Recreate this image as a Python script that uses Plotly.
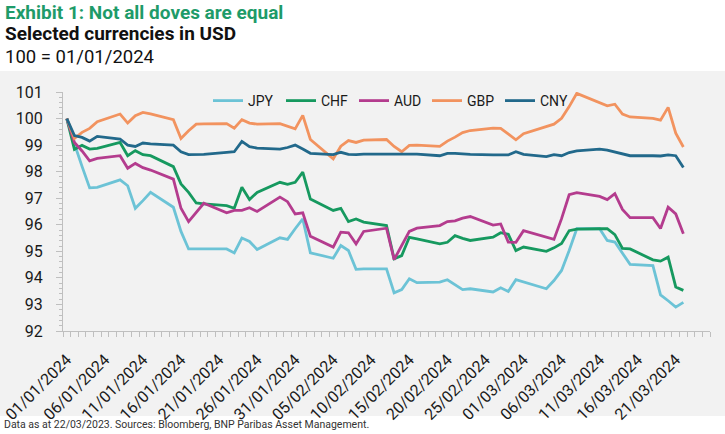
import pandas as pd
import plotly.graph_objects as go

# business days, 01/01/2024 - 22/03/2024
dates = [
    "2024-01-01", "2024-01-02", "2024-01-03", "2024-01-04", "2024-01-05",
    "2024-01-08", "2024-01-09", "2024-01-10", "2024-01-11", "2024-01-12",
    "2024-01-15", "2024-01-16", "2024-01-17", "2024-01-18", "2024-01-19",
    "2024-01-22", "2024-01-23", "2024-01-24", "2024-01-25", "2024-01-26",
    "2024-01-29", "2024-01-30", "2024-01-31",
    "2024-02-01", "2024-02-02", "2024-02-05", "2024-02-06", "2024-02-07",
    "2024-02-08", "2024-02-09", "2024-02-12", "2024-02-13", "2024-02-14",
    "2024-02-15", "2024-02-16", "2024-02-19", "2024-02-20", "2024-02-21",
    "2024-02-22", "2024-02-23", "2024-02-26", "2024-02-27", "2024-02-28",
    "2024-02-29",
    "2024-03-01", "2024-03-04", "2024-03-05", "2024-03-06", "2024-03-07",
    "2024-03-08", "2024-03-11", "2024-03-12", "2024-03-13", "2024-03-14",
    "2024-03-15", "2024-03-18", "2024-03-19", "2024-03-20", "2024-03-21",
    "2024-03-22",
]

jpy = [100, 99.05, 98.2, 97.39, 97.41, 97.69, 97.47, 96.62, 96.91, 97.22,
       96.66, 95.75, 95.09, 95.09, 95.11, 95.09, 94.94, 95.50, 95.37, 95.07,
       95.51, 95.45, 95.85,
       96.22, 94.94, 94.74, 95.22, 95.03, 94.32, 94.34, 94.34, 93.44, 93.56,
       93.97, 93.82, 93.84, 93.93, 93.74, 93.56, 93.59, 93.47, 93.63, 93.49,
       93.93,
       93.84, 93.59, 93.90, 94.28, 95.03, 95.85, 95.85, 95.41, 95.35, 94.92,
       94.51, 94.46, 93.36, 93.14, 92.90, 93.08]

chf = [100, 98.84, 98.99, 98.85, 98.88, 99.10, 98.60, 98.79, 98.64, 98.60,
       98.19, 97.54, 97.22, 96.82, 96.79, 96.72, 96.62, 97.41, 96.95, 97.22,
       97.60, 97.52, 97.60,
       97.98, 96.97, 96.54, 96.62, 96.12, 96.22, 96.10, 95.97, 94.72, 94.84,
       95.53, 95.47, 95.28, 95.34, 95.59, 95.49, 95.41, 95.53, 95.70, 95.64,
       95.03,
       95.16, 95.00, 95.13, 95.30, 95.78, 95.84, 95.85, 95.85, 95.63, 95.11,
       95.09, 94.68, 94.63, 94.78, 93.66, 93.53]

aud = [100, 99.1, 98.78, 98.41, 98.50, 98.60, 98.13, 98.31, 98.15, 98.06,
       97.72, 96.62, 96.12, 96.47, 96.81, 96.45, 96.54, 96.54, 96.64, 96.50,
       97.04, 96.87, 96.41,
       96.45, 95.57, 95.16, 95.72, 95.70, 95.28, 95.75, 95.87, 94.69, 95.22,
       95.75, 95.87, 95.97, 96.12, 96.15, 96.25, 96.31, 95.99, 96.03, 95.35,
       95.34,
       95.78, 95.55, 95.45, 96.23, 97.13, 97.21, 97.07, 96.95, 97.17, 96.58,
       96.27, 96.27, 95.86, 96.66, 96.41, 95.66]

gbp = [100, 99.25, 99.48, 99.63, 99.88, 100.17, 99.83, 100.11, 100.23, 100.18,
       99.96, 99.25, 99.54, 99.79, 99.80, 99.81, 99.64, 99.96, 99.83, 99.79,
       99.81, 99.72, 99.61,
       100.12, 99.21, 98.48, 98.96, 99.17, 99.10, 99.19, 99.21, 98.95, 98.75,
       98.99, 99.00, 98.95, 99.15, 99.30, 99.47, 99.55, 99.64, 99.63, 99.42,
       99.20,
       99.43, 99.70, 99.79, 100.01, 100.45, 100.95, 100.60, 100.48, 100.54,
       100.17, 100.06, 100.01, 99.94, 100.42, 99.45, 98.93]

cny = [100, 99.36, 99.29, 99.15, 99.33, 99.23, 99.00, 98.95, 99.08, 99.05,
       99.00, 98.75, 98.64, 98.64, 98.65, 98.73, 98.75, 99.14, 98.94, 98.89,
       98.85, 98.91, 99.00,
       98.85, 98.69, 98.64, 98.73, 98.65, 98.64, 98.66, 98.66, 98.66, 98.66,
       98.66, 98.66, 98.60, 98.69, 98.69, 98.66, 98.65, 98.63, 98.63, 98.63,
       98.75,
       98.65, 98.57, 98.64, 98.60, 98.72, 98.78, 98.85, 98.81, 98.74, 98.65,
       98.60, 98.60, 98.59, 98.63, 98.60, 98.16]

series = [
    ("JPY", jpy, "#6cc3d6"),
    ("CHF", chf, "#16995f"),
    ("AUD", aud, "#b43c8e"),
    ("GBP", gbp, "#f2935f"),
    ("CNY", cny, "#22698b"),
]

x = pd.to_datetime(dates)
fuente = "Roboto, Arial, sans-serif"
gris = "#bfbfbf"

fig = go.Figure()
for nome, valores, cor in series:
    fig.add_trace(go.Scatter(x=x, y=valores, name=nome, mode="lines",
                             line=dict(color=cor, width=2.8)))

# plot area: x 63..710 px, y 92..331 px
def px_x(p):
    return (p - 63) / 647

def px_y(p):
    return (331 - p) / 239

fig.add_shape(type="rect", xref="paper", yref="paper",
              x0=px_x(0), x1=px_x(725), y0=px_y(416), y1=px_y(71),
              fillcolor="#f2f2f2", line_width=0, layer="below")

textos = [
    ("Exhibit 1: Not all doves are equal", 12, 19, "#1e9b69", True),
    ("Selected currencies in USD", 34, 19, "#111111", True),
    ("100 = 01/01/2024", 57, 18.5, "#111111", False),
]
for txt, ypos, tam, cor, negrito in textos:
    fig.add_annotation(text="<b>" + txt + "</b>" if negrito else txt,
                       xref="paper", yref="paper", x=px_x(3), y=px_y(ypos),
                       xanchor="left", yanchor="middle", showarrow=False,
                       font=dict(size=tam, color=cor, family=fuente))

fig.add_annotation(text="Data as at 22/03/2023. Sources: Bloomberg, BNP Paribas Asset Management.",
                   xref="paper", yref="paper", x=px_x(2), y=px_y(424),
                   xanchor="left", yanchor="middle", showarrow=False,
                   font=dict(size=10.5, color="#333333", family=fuente))

fig.update_xaxes(
    type="date", automargin=False,
    range=["2023-12-31 12:00", "2024-03-25 12:00"],
    tick0="2024-01-01", dtick=5 * 86400000, tickformat="%d/%m/%Y",
    tickangle=-45, ticks="", ticklabelstandoff=12,
    tickfont=dict(size=16, color="#1a1a1a", family=fuente),
    showline=True, linecolor=gris, linewidth=1, showgrid=False, zeroline=False,
    minor=dict(tick0="2023-12-31 12:00", dtick=86400000, ticks="outside",
               ticklen=5, tickcolor=gris, showgrid=False),
)
fig.update_yaxes(
    range=[92, 101], tick0=92, dtick=1, automargin=False,
    ticks="outside", ticklen=6, tickcolor=gris, ticklabelstandoff=10,
    tickfont=dict(size=16, color="#1a1a1a", family=fuente),
    showline=True, linecolor=gris, linewidth=1, showgrid=False, zeroline=False,
    minor=dict(dtick=0.2, ticks="outside", ticklen=3, tickcolor=gris, showgrid=False),
)

fig.update_layout(
    width=725, height=434,
    margin=dict(l=63, r=15, t=92, b=103, autoexpand=False),
    paper_bgcolor="white", plot_bgcolor="#f2f2f2",
    font=dict(family=fuente, color="#1a1a1a"),
    showlegend=True,
    legend=dict(orientation="h", x=px_x(208), y=px_y(101), xanchor="left",
                yanchor="middle", bgcolor="rgba(0,0,0,0)",
                font=dict(size=14, color="#1a1a1a", family=fuente),
                itemwidth=30, entrywidth=28, entrywidthmode="pixels",
                tracegroupgap=0),
    hovermode="closest",
)

# tirar a margem padrão do body para a figura ocupar a janela inteira
fig.write_html("out.html", config={"displayModeBar": False},
               post_script="document.body.style.margin='0';")
